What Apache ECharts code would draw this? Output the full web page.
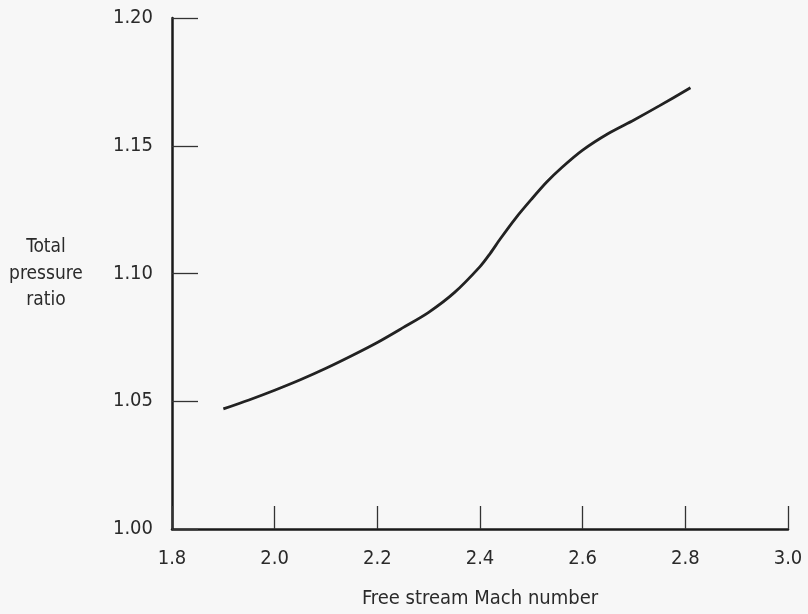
<!DOCTYPE html>
<html>
<head>
<meta charset="utf-8">
<script src="https://cdn.jsdelivr.net/npm/echarts@6/dist/echarts.min.js"></script>
<style>
html,body{margin:0;padding:0;background:#f7f7f7;}
#c{width:808px;height:614px;}
</style>
</head>
<body>
<div id="c"></div>
<script>
const machNumbers = [1.90, 1.95, 2.00, 2.05, 2.10, 2.15, 2.20, 2.25, 2.30, 2.35, 2.40, 2.42, 2.44, 2.47, 2.50, 2.53, 2.56, 2.60, 2.65, 2.70, 2.75, 2.81];
const pressureRatios = [1.0470, 1.0505, 1.0543, 1.0584, 1.0629, 1.0678, 1.0730, 1.0788, 1.0848, 1.0925, 1.1027, 1.1079, 1.1137, 1.1218, 1.1290, 1.1358, 1.1416, 1.1483, 1.1548, 1.1601, 1.1657, 1.1727];
const xTicks = [1.8, 2.0, 2.2, 2.4, 2.6, 2.8, 3.0];
const yTicks = [1.00, 1.05, 1.10, 1.15, 1.20];
const xTitle = 'Free stream Mach number';
const yTitle = 'Total\npressure\nratio';

const FONT = '"Liberation Sans Narrow", "DejaVu Sans Condensed", "Roboto", sans-serif';
const chart = echarts.init(document.getElementById('c'));
chart.setOption({
  backgroundColor: '#f7f7f7',
  animation: false,
  grid: {left: 172, right: 20, top: 18, bottom: 85},
  xAxis: {
    type: 'value', min: xTicks[0], max: xTicks[xTicks.length-1], interval: 0.2,
    name: xTitle, nameLocation: 'middle', nameGap: 60,
    nameTextStyle: {fontFamily: FONT, fontSize: 20, color: '#2a2a2a'},
    axisLine: {lineStyle: {color: '#1a1a1a', width: 2.5}},
    axisTick: {inside: true, length: 23, lineStyle: {color: '#333', width: 1.3}},
    axisLabel: {margin: 20, fontFamily: FONT, fontSize: 20, color: '#2a2a2a',
      formatter: v => v.toFixed(1)},
    splitLine: {show: false}
  },
  yAxis: {
    type: 'value', min: yTicks[0], max: yTicks[yTicks.length-1], interval: 0.05,
    axisLine: {show: true, lineStyle: {color: '#1a1a1a', width: 2.5}},
    axisTick: {show: true, inside: true, length: 26, lineStyle: {color: '#333', width: 1.3}},
    axisLabel: {margin: 19, fontFamily: FONT, fontSize: 20, color: '#2a2a2a',
      formatter: v => v.toFixed(2)},
    splitLine: {show: false}
  },
  graphic: [{
    type: 'text', x: 46, y: 234,
    style: {text: yTitle, font: '19px ' + FONT, fill: '#2a2a2a', textAlign: 'center', textVerticalAlign: 'top', lineHeight: 26.5}
  }],
  series: [{
    type: 'line', smooth: 0.3, symbol: 'none',
    data: machNumbers.map((x, i) => [x, pressureRatios[i]]),
    lineStyle: {color: '#222', width: 2.8}
  }]
});
</script>
</body>
</html>
